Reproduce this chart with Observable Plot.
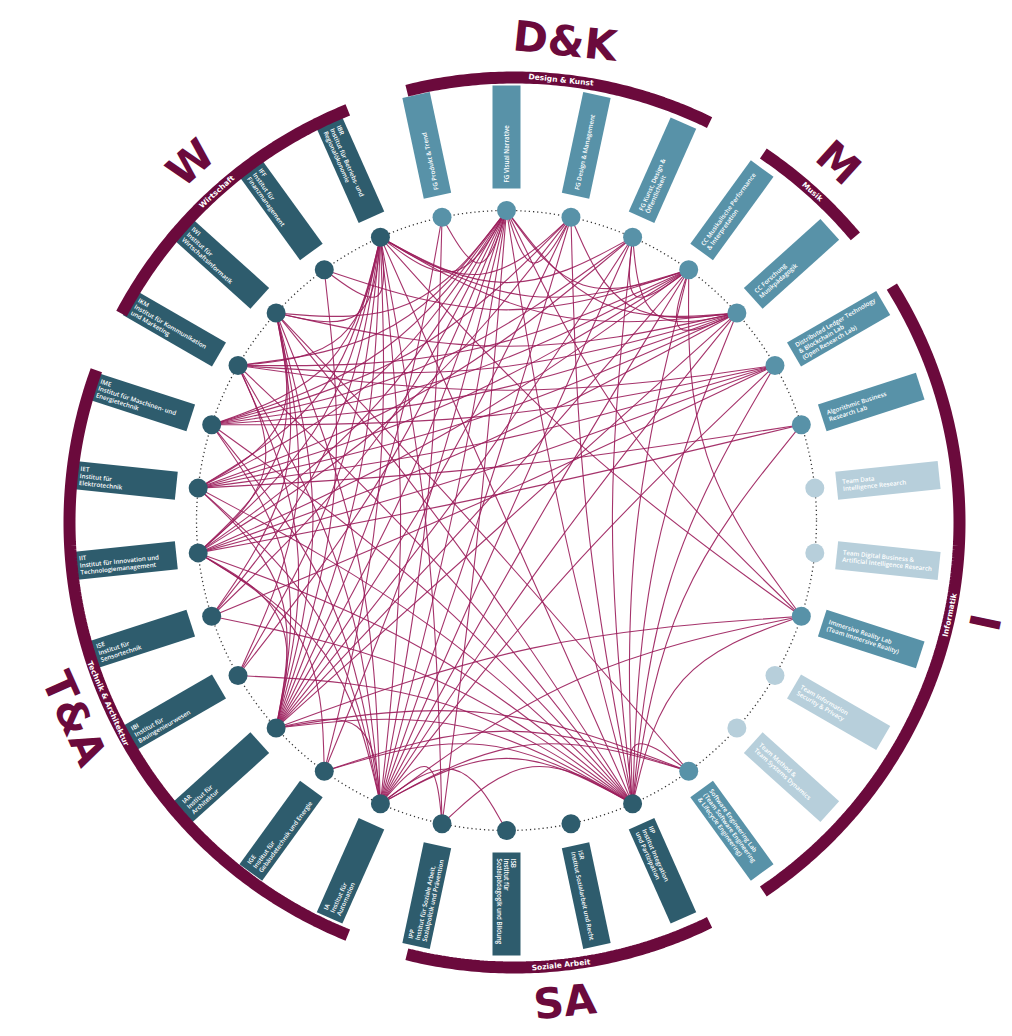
<!DOCTYPE html>
<html><head><meta charset="utf-8">
<script src="https://cdn.jsdelivr.net/npm/d3@7"></script>
<script src="https://cdn.jsdelivr.net/npm/@observablehq/plot@0.6"></script>
<style>body{margin:0;background:#fff;} #chart svg{display:block;}</style>
</head><body><div id="chart"></div>
<script>
// ---------- data ----------
const groupCodes = ["D&K", "M", "I", "SA", "T&A", "W"];
const groupNames = ["Design & Kunst", "Musik", "Informatik", "Soziale Arbeit", "Technik & Architektur", "Wirtschaft"];

const nodeLabels = [
  "FG Produkt & Trend",
  "FG Visual Narrative",
  "FG Design & Management",
  "FG Kunst, Design &\nÖffentlichkeit",
  "CC Musikalische Performance\n& Interpretation",
  "CC Forschung\nMusikpädagogik",
  "Distributed Ledger Technology\n& Blockchain Lab\n(Open Research Lab)",
  "Algorithmic Business\nResearch Lab",
  "Team Data\nIntelligence Research",
  "Team Digital Business &\nArtificial Intelligence Research",
  "Immersive Reality Lab\n(Team Immersive Reality)",
  "Team Information\nSecurity & Privacy",
  "Team Method &\nTeam Systems Dynamics",
  "Software Engineering Lab\n(Team Software Engineering\n& Lifecycle Engineering)",
  "IIP\nInstitut Integration\nund Partizipation",
  "ISR\nInstitut Sozialarbeit und Recht",
  "ISB\nInstitut für\nSozialpädagogik und Bildung",
  "IPP\nInstitut für Soziale Arbeit,\nSozialpolitik und Prävention",
  "IA\nInstitut für\nAutomation",
  "IGE\nInstitut für\nGebäudetechnik und Energie",
  "IAR\nInstitut für\nArchitektur",
  "IBI\nInstitut für\nBauingenieurwesen",
  "ISE\nInstitut für\nSensortechnik",
  "IIT\nInstitut für Innovation und\nTechnologiemanagement",
  "IET\nInstitut für\nElektrotechnik",
  "IME\nInstitut für Maschinen- und\nEnergietechnik",
  "IKM\nInstitut für Kommunikation\nund Marketing",
  "IWI\nInstitut für\nWirtschaftsinformatik",
  "IFF\nInstitut für\nFinanzmanagement",
  "IBR\nInstitut für Betriebs- und\nRegionalökonomie"
];
const nodeGroups = [
  "D&K","D&K","D&K","D&K",
  "M","M",
  "I","I","I","I","I","I","I","I",
  "SA","SA","SA","SA",
  "T&A","T&A","T&A","T&A","T&A","T&A","T&A","T&A",
  "W","W","W","W"
];
const kinds = ["Forschungsgruppe", "Team", "Institut"];
const nodeKinds = [
  "Forschungsgruppe","Forschungsgruppe","Forschungsgruppe","Forschungsgruppe",
  "Forschungsgruppe","Forschungsgruppe",
  "Forschungsgruppe","Forschungsgruppe","Team","Team","Forschungsgruppe","Team","Team","Forschungsgruppe",
  "Institut","Institut","Institut","Institut",
  "Institut","Institut","Institut","Institut","Institut","Institut","Institut","Institut",
  "Institut","Institut","Institut","Institut"
];

// links between nodes (indices into nodeLabels)
const linkSource = [
  1,1,1,1,1,1,1,1,1,1,1,1,1,1,1,1,
  2,2,2,2,2,2,2,
  3,3,3,3,3,3,3,3,
  4,4,4,4,4,4,4,4,4,
  5,5,5,5,5,5,5,5,5,
  6,6,6,6,6,6,
  7,7,7,
  10,10,10,10,
  13,13,13,13,13,
  14,14,14,14,14,14,14,14,14,14,14,
  17,17,16,
  18,18,18,18,18,18,18,
  19,19,
  20,20,20,20,20,20,20,
  21,21,22,22,23,23,23,24,24,
  25,26,27,28,
  0,0,
  28,21,26,24,22,21
];
const linkTarget = [
  29,0,2,4,5,14,17,18,19,20,23,24,25,26,27,10,
  29,5,14,18,20,25,23,
  29,5,4,14,18,20,25,24,
  29,5,14,18,20,25,23,26,10,
  29,27,26,25,24,23,14,18,20,
  23,24,25,14,18,22,
  23,24,14,
  14,18,20,29,
  20,18,19,27,14,
  17,18,19,20,22,23,24,25,26,27,29,
  18,29,18,
  20,23,24,25,26,27,29,
  29,23,
  23,24,25,26,27,28,29,
  29,27,29,27,29,27,26,29,27,
  29,29,29,29,
  20,18,
  4,14,6,4,1,1
];

// ---------- layout ----------
const W = 1012, H = 1036;
const CX = 506, CY = 520;              // pixel centre of the node ring
const ringR = 310, boxR1 = 332, boxR2 = 435, boxW = 28;
const arcC = [8, 2], arcR = 445, arcPad = 2;
const bigR = 483;
const N = nodeLabels.length;
const step = 360 / N;
const startAngle = -12;
const deg = Math.PI / 180;
const angleOf = j => startAngle + step * j;
const polar = (a, r, c = [0, 0]) => [c[0] + r * Math.sin(a * deg), c[1] - r * Math.cos(a * deg)];
const norm = a => ((a % 360) + 360) % 360;
const tangentRot = a => { const n = norm(a); return (n > 90 && n < 270) ? n - 180 : (n > 180 ? n - 360 : n); };

const nodes = nodeLabels.map((label, j) => {
  const a = angleOf(j);
  const n = norm(a);
  const flip = n > 185 && n < 345;
  const [x, y] = polar(a, ringR);
  const [x1, y1] = polar(a, boxR1);
  const [x2, y2] = polar(a, boxR2);
  const [tx, ty] = polar(a, flip ? boxR2 - 6 : boxR1 + 6);
  return {j, label, group: nodeGroups[j], kind: nodeKinds[j], a, x, y, x1, y1, x2, y2, tx, ty, rot: flip ? a + 90 : a - 90};
});

const linkPts = [];
linkSource.forEach((s, k) => {
  const A = nodes[s], B = nodes[linkTarget[k]];
  const pull = 0.76;
  linkPts.push({k, x: A.x, y: A.y});
  linkPts.push({k, x: (A.x + B.x) / 2 * pull, y: (A.y + B.y) / 2 * pull});
  linkPts.push({k, x: B.x, y: B.y});
});

const groups = groupCodes.map((code, g) => {
  const idx = nodes.filter(d => d.group === code).map(d => d.j);
  const a0 = angleOf(d3.min(idx)) - arcPad, a1 = angleOf(d3.max(idx)) + arcPad;
  const mid = (a0 + a1) / 2;
  const [lx, ly] = polar(mid, arcR, arcC);
  const [bx, by] = polar(mid, bigR, arcC);
  return {code, name: groupNames[g], a0, a1, mid, lx, ly, bx, by, rot: tangentRot(mid)};
});
const arcPts = groups.flatMap(g => d3.range(g.a0, g.a1 + 0.001, 0.5).map(a => {
  const [x, y] = polar(Math.min(a, g.a1), arcR, arcC);
  return {code: g.code, x, y};
}));

const maroon = "#6b0a3c";
const chart = Plot.plot({
  width: W, height: H, margin: 0,
  x: {domain: [-CX, W - CX], range: [0, W], axis: null},
  y: {domain: [-CY, H - CY], range: [0, H], axis: null},
  color: {domain: kinds, range: ["#5892a8", "#b7cfdb", "#2e5c6d"]},
  style: {fontFamily: "Open Sans, DejaVu Sans, sans-serif", background: "#fff"},
  marks: [
    Plot.dot([{x: 0, y: 0}], {x: "x", y: "y", r: ringR, fill: "none", stroke: "#333", strokeWidth: 1.3, strokeDasharray: "1.2 3"}),
    Plot.line(linkPts, {x: "x", y: "y", z: "k", curve: "basis", stroke: "#9b1d5b", strokeWidth: 1.1, strokeOpacity: 0.9}),
    Plot.link(nodes, {x1: "x1", y1: "y1", x2: "x2", y2: "y2", stroke: "kind", strokeWidth: boxW, strokeLinecap: "butt"}),
    Plot.text(nodes, {x: "tx", y: "ty", text: "label", rotate: "rot", textAnchor: "start", lineAnchor: "middle", fill: "white", fontSize: 6.2, fontWeight: 600, lineHeight: 1.15}),
    Plot.dot(nodes, {x: "x", y: "y", r: 9.5, fill: "kind"}),
    Plot.line(arcPts, {x: "x", y: "y", z: "code", stroke: maroon, strokeWidth: 12, strokeLinecap: "butt", strokeLinejoin: "miter", curve: "linear"}),
    Plot.text(groups, {x: "lx", y: "ly", text: "name", rotate: "rot", fill: "white", fontSize: 7.5, fontWeight: "bold", lineAnchor: "middle", fontFamily: "DejaVu Sans"}),
    Plot.text(groups, {x: "bx", y: "by", text: "code", rotate: "rot", fill: maroon, fontSize: 42, fontWeight: "bold", lineAnchor: "middle", fontFamily: "DejaVu Sans"})
  ]
});
document.getElementById("chart").append(chart);
</script>
</body></html>
